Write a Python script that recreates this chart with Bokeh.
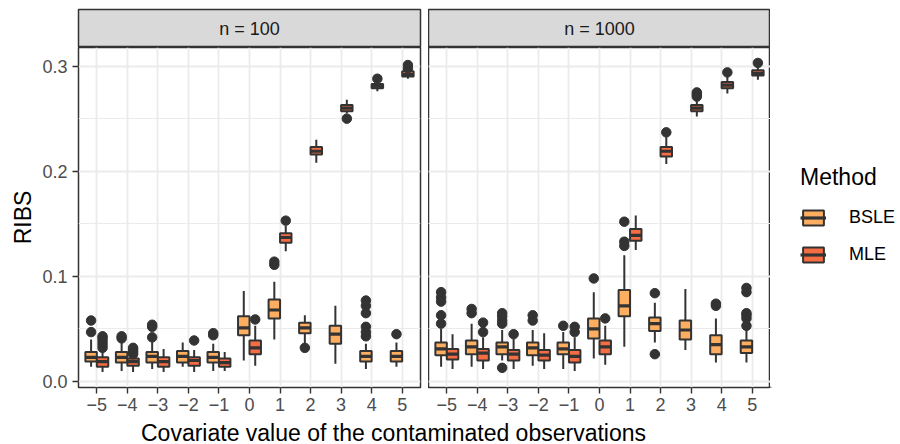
from bokeh.plotting import figure
from bokeh.models import (Range1d, FixedTicker, PrintfTickFormatter, Grid, Legend,
                          LegendItem, Label, ColumnDataSource)
from bokeh.layouts import row, column
from bokeh.embed import file_html
from bokeh.resources import INLINE

FONT = "Liberation Sans"

# ---------------- data ----------------
x_values = [-5, -4, -3, -2, -1, 0, 1, 2, 3, 4, 5]
x_tick_labels = ["\u22125", "\u22124", "\u22123", "\u22122", "\u22121", "0", "1", "2", "3", "4", "5"]
panel_titles = ["n = 100", "n = 1000"]
methods = ["BSLE", "MLE"]
method_colors = ["#FDAE61", "#F46D43"]

# n = 100, BSLE
n100_bsle_lw  = [0.014, 0.010, 0.012, 0.014, 0.010, 0.020, 0.040, 0.036, 0.017, 0.012, 0.014]
n100_bsle_q1  = [0.019, 0.018, 0.018, 0.018, 0.018, 0.044, 0.060, 0.046, 0.036, 0.019, 0.019]
n100_bsle_med = [0.023, 0.023, 0.024, 0.024, 0.023, 0.051, 0.068, 0.051, 0.045, 0.024, 0.024]
n100_bsle_q3  = [0.028, 0.028, 0.028, 0.029, 0.028, 0.062, 0.078, 0.056, 0.053, 0.029, 0.029]
n100_bsle_uw  = [0.040, 0.037, 0.038, 0.037, 0.036, 0.086, 0.095, 0.063, 0.072, 0.036, 0.037]
n100_bsle_out = [[0.047, 0.058], [0.041, 0.043], [0.042, 0.052, 0.054], [], [0.044, 0.046], [],
                 [0.111, 0.114], [0.032], [], [0.043, 0.047, 0.052, 0.065, 0.072, 0.077], [0.045]]

# n = 100, MLE
n100_mle_lw  = [0.009, 0.009, 0.009, 0.009, 0.010, 0.015, 0.124, 0.208, 0.255, 0.276, 0.288]
n100_mle_q1  = [0.014, 0.015, 0.014, 0.015, 0.014, 0.026, 0.132, 0.216, 0.257, 0.279, 0.290]
n100_mle_med = [0.019, 0.019, 0.019, 0.020, 0.018, 0.032, 0.137, 0.219, 0.260, 0.281, 0.292]
n100_mle_q3  = [0.023, 0.022, 0.023, 0.023, 0.022, 0.039, 0.141, 0.223, 0.263, 0.283, 0.295]
n100_mle_uw  = [0.030, 0.024, 0.031, 0.030, 0.028, 0.053, 0.148, 0.230, 0.268, 0.285, 0.296]
n100_mle_out = [[0.032, 0.035, 0.038, 0.041, 0.043], [0.026, 0.028, 0.030, 0.032], [], [0.039], [],
                [0.059], [0.153], [], [0.250], [0.288], [0.298, 0.301]]

# n = 1000, BSLE
n1000_bsle_lw  = [0.014, 0.014, 0.020, 0.015, 0.012, 0.022, 0.033, 0.037, 0.030, 0.018, 0.018]
n1000_bsle_q1  = [0.025, 0.026, 0.026, 0.025, 0.026, 0.041, 0.062, 0.048, 0.040, 0.026, 0.027]
n1000_bsle_med = [0.031, 0.033, 0.033, 0.032, 0.031, 0.050, 0.072, 0.055, 0.049, 0.035, 0.033]
n1000_bsle_q3  = [0.037, 0.039, 0.037, 0.037, 0.037, 0.060, 0.087, 0.061, 0.058, 0.044, 0.039]
n1000_bsle_uw  = [0.050, 0.055, 0.049, 0.049, 0.047, 0.085, 0.120, 0.075, 0.088, 0.060, 0.050]
n1000_bsle_out = [[0.055, 0.063, 0.076, 0.080, 0.085], [0.065, 0.069], [0.013, 0.055, 0.058, 0.062, 0.065],
                  [0.058, 0.063], [0.053], [0.098], [0.129, 0.133, 0.152], [0.026, 0.084], [],
                  [0.072, 0.074], [0.053, 0.060, 0.063, 0.065, 0.085, 0.089]]

# n = 1000, MLE
n1000_mle_lw  = [0.012, 0.012, 0.012, 0.012, 0.010, 0.016, 0.125, 0.207, 0.252, 0.274, 0.287]
n1000_mle_q1  = [0.021, 0.020, 0.020, 0.020, 0.018, 0.026, 0.134, 0.214, 0.257, 0.279, 0.291]
n1000_mle_med = [0.026, 0.027, 0.026, 0.025, 0.024, 0.033, 0.139, 0.219, 0.260, 0.282, 0.293]
n1000_mle_q3  = [0.031, 0.031, 0.030, 0.030, 0.030, 0.039, 0.145, 0.223, 0.263, 0.285, 0.296]
n1000_mle_uw  = [0.045, 0.042, 0.041, 0.046, 0.042, 0.053, 0.158, 0.233, 0.268, 0.290, 0.299]
n1000_mle_out = [[], [0.047, 0.056], [0.045], [], [0.047, 0.052], [0.060], [], [0.237],
                 [0.271, 0.273, 0.275], [0.294], [0.303]]

y_ticks = [0.0, 0.1, 0.2, 0.3]
y_minor = [0.05, 0.15, 0.25]

# ---------------- style ----------------
DARK = "#333333"
GRID = "#EBEBEB"
BOX_W = 0.375
X_RANGE = (-5.6, 5.6)
Y_RANGE = (-0.0057, 0.3177)
FRAME_W = 342
FRAME_H = 340
STRIP_H = 38
TOP = 9
LEFT = 78
GAP = 8
BOTTOM = 31
LEG_W = 130
SMALL = "18px"
BIG = "23px"


def add_boxes(p, lw, q1, med, q3, uw, out, offset, color):
    xpos = [x + offset for x in x_values]
    src = ColumnDataSource(dict(
        x=xpos, lw=lw, q1=q1, med=med, q3=q3, uw=uw,
        xl=[x - BOX_W / 2 for x in xpos], xr=[x + BOX_W / 2 for x in xpos]))
    p.segment(x0="x", y0="lw", x1="x", y1="uw", source=src,
              line_color=DARK, line_width=2.0)
    p.vbar(x="x", width=BOX_W, bottom="q1", top="q3", source=src,
           fill_color=color, line_color=DARK, line_width=2.0)
    p.segment(x0="xl", y0="med", x1="xr", y1="med", source=src,
              line_color=DARK, line_width=3.2)
    ox, oy = [], []
    for x, vals in zip(xpos, out):
        for v in vals:
            ox.append(x)
            oy.append(v)
    p.scatter(x=ox, y=oy, size=9.5, color=DARK, line_color=DARK)


def style_axis(ax):
    ax.axis_line_color = None
    ax.major_tick_line_color = DARK
    ax.major_tick_line_width = 1.4
    ax.major_tick_out = 6
    ax.major_tick_in = 0
    ax.minor_tick_line_color = None
    ax.major_label_text_font = FONT
    ax.major_label_text_font_size = SMALL
    ax.major_label_text_color = "#4D4D4D"
    ax.major_label_standoff = 4


def make_panel(with_y_axis, bsle, mle):
    kw = dict(frame_width=FRAME_W, frame_height=FRAME_H, output_backend="svg",
              toolbar_location=None, x_range=Range1d(*X_RANGE), y_range=Range1d(*Y_RANGE),
              min_border_top=0, min_border_bottom=BOTTOM)
    if with_y_axis:
        p = figure(min_border_left=LEFT, min_border_right=GAP, **kw)
    else:
        p = figure(min_border_left=0, min_border_right=0, y_axis_location=None, **kw)
    p.outline_line_color = DARK
    p.outline_line_width = 1.5
    p.background_fill_color = "white"

    p.xaxis.ticker = FixedTicker(ticks=x_values)
    p.xaxis.major_label_overrides = {x: lab for x, lab in zip(x_values, x_tick_labels)}
    style_axis(p.xaxis[0])
    p.xgrid.ticker = FixedTicker(ticks=x_values)
    p.xgrid.grid_line_color = GRID
    p.xgrid.grid_line_width = 1.8

    yt = FixedTicker(ticks=y_ticks, minor_ticks=y_minor)
    if with_y_axis:
        p.yaxis.ticker = yt
        p.yaxis.formatter = PrintfTickFormatter(format="%.1f")
        style_axis(p.yaxis[0])
        p.yaxis.major_label_standoff = 5
        p.yaxis.axis_label = "RIBS"
        p.yaxis.axis_label_text_font = FONT
        p.yaxis.axis_label_text_font_size = BIG
        p.yaxis.axis_label_text_font_style = "normal"
        p.yaxis.axis_label_text_color = "black"
        p.yaxis.axis_label_standoff = 3
        p.ygrid.ticker = yt
        p.ygrid.grid_line_color = GRID
        p.ygrid.grid_line_width = 1.8
        p.ygrid.minor_grid_line_color = GRID
        p.ygrid.minor_grid_line_width = 1.0
    else:
        p.add_layout(Grid(dimension=1, ticker=yt, grid_line_color=GRID, grid_line_width=1.8,
                          minor_grid_line_color=GRID, minor_grid_line_width=1.0))

    add_boxes(p, *bsle, offset=-BOX_W / 2, color=method_colors[0])
    add_boxes(p, *mle, offset=BOX_W / 2, color=method_colors[1])
    return p


def make_strip(title, with_left):
    p = figure(frame_width=FRAME_W, frame_height=STRIP_H, output_backend="svg",
               toolbar_location=None, x_range=Range1d(0, 1), y_range=Range1d(0, 1),
               x_axis_location=None, y_axis_location=None,
               min_border_top=TOP, min_border_bottom=0,
               min_border_left=LEFT if with_left else 0,
               min_border_right=GAP if with_left else 0)
    p.grid.visible = False
    p.background_fill_color = "#D9D9D9"
    p.outline_line_color = DARK
    p.outline_line_width = 1.5
    p.add_layout(Label(x=0.5, y=0.5, text=title, text_align="center", text_baseline="middle",
                       text_font=FONT, text_font_size=SMALL, text_color="#1A1A1A"))
    return p


p1 = make_panel(True,
                (n100_bsle_lw, n100_bsle_q1, n100_bsle_med, n100_bsle_q3, n100_bsle_uw, n100_bsle_out),
                (n100_mle_lw, n100_mle_q1, n100_mle_med, n100_mle_q3, n100_mle_uw, n100_mle_out))
p2 = make_panel(False,
                (n1000_bsle_lw, n1000_bsle_q1, n1000_bsle_med, n1000_bsle_q3, n1000_bsle_uw, n1000_bsle_out),
                (n1000_mle_lw, n1000_mle_q1, n1000_mle_med, n1000_mle_q3, n1000_mle_uw, n1000_mle_out))

# legend in its own small figure; its key renderers sit outside the visible range
pl = figure(frame_width=LEG_W, frame_height=FRAME_H, output_backend="svg",
            toolbar_location=None, x_range=Range1d(0, 1), y_range=Range1d(0, 1),
            x_axis_location=None, y_axis_location=None,
            min_border_top=0, min_border_bottom=BOTTOM, min_border_left=0, min_border_right=0)
pl.grid.visible = False
pl.outline_line_color = None
items = []
for m, c in zip(methods, method_colors):
    rb = pl.vbar(x=[-5], top=[-5], bottom=[-5], width=0.1, fill_color=c,
                 line_color=DARK, line_width=2.0)
    rm = pl.segment(x0=[-5], y0=[-5], x1=[-5], y1=[-5], line_color=DARK, line_width=3.2)
    items.append(LegendItem(label=m, renderers=[rb, rm]))
legend = Legend(items=items, title="Method", location=(30, 122),
                title_text_font=FONT, title_text_font_size=BIG, title_text_font_style="normal",
                title_text_color="black", title_standoff=16,
                label_text_font=FONT, label_text_font_size=SMALL, label_text_color="black",
                glyph_width=26, glyph_height=19, label_height=20, label_standoff=23, spacing=16,
                padding=6, margin=0, border_line_color=None, background_fill_alpha=0)
pl.add_layout(legend)

s1 = make_strip(panel_titles[0], True)
s2 = make_strip(panel_titles[1], False)

TOTAL_W = LEFT + FRAME_W + GAP + FRAME_W + LEG_W
TITLE_CENTER = 393
xt = figure(frame_width=TOTAL_W, frame_height=26, output_backend="svg",
            toolbar_location=None, x_range=Range1d(0, TOTAL_W),
            y_range=Range1d(0, 26), x_axis_location=None, y_axis_location=None,
            min_border=0)
xt.grid.visible = False
xt.outline_line_color = None
xt.add_layout(Label(x=TITLE_CENTER, y=12,
                    text="Covariate value of the contaminated observations",
                    text_align="center", text_baseline="middle",
                    text_font=FONT, text_font_size=BIG, text_color="black"))

layout = column(row(s1, s2, spacing=0), row(p1, p2, pl, spacing=0), xt, spacing=0)

open("out.html", "w").write(file_html(layout, INLINE))
